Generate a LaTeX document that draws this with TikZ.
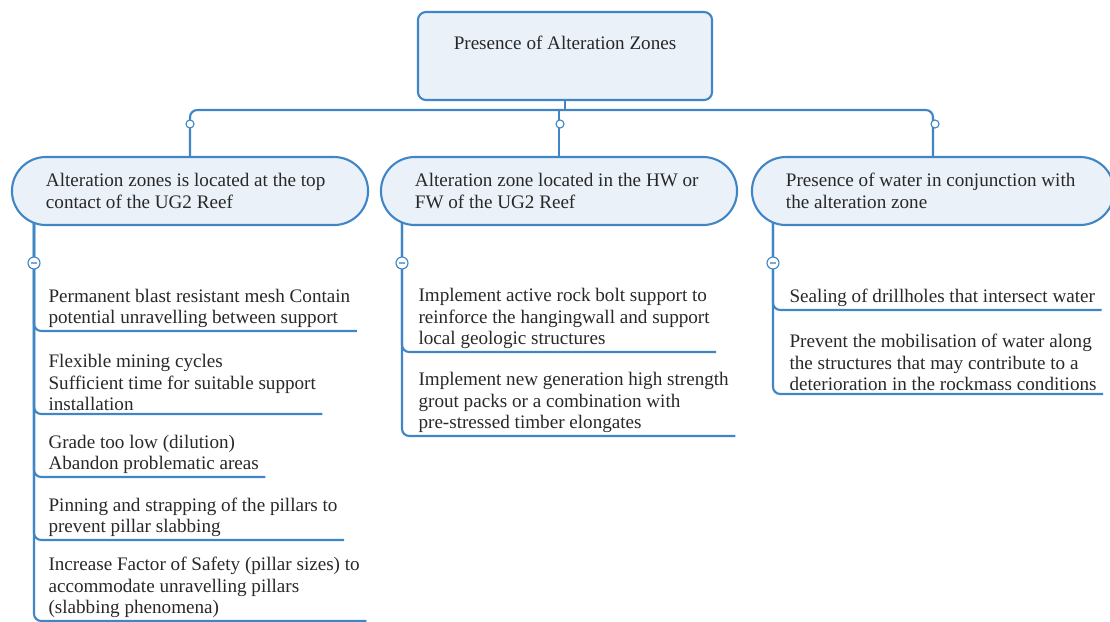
\documentclass[tikz,border=0pt]{standalone}
\usepackage{fontspec}
\setmainfont{Liberation Serif}
\usepackage{tikz}
\usetikzlibrary{positioning}
\usetikzlibrary{calc}
\definecolor{mapblue}{RGB}{64,134,198}
\definecolor{mapfill}{RGB}{234,241,249}
\definecolor{maptext}{RGB}{40,40,40}
\newcommand{\mapfont}{\fontsize{13.6}{15.3}\selectfont}

\begin{document}
\begin{tikzpicture}[x=0.025cm, y=-0.025cm, thick]
    % Define styles
    \tikzstyle{topic} = [rectangle, draw=mapblue, line width=1.5pt, fill=mapfill, rounded corners=0.2cm, minimum width=7.35cm, minimum height=2.2cm, align=center, text height=0.3cm, text depth=0.61cm, font=\mapfont, text=maptext]
    \tikzstyle{pill} = [rectangle, draw=mapblue, line width=1.5pt, fill=mapfill, rounded corners=0.85cm, minimum height=1.7cm, inner xsep=0.85cm, text width=7.2cm, align=flush left, font=\mapfont, text=maptext]
    \tikzstyle{leaf} = [anchor=south west, inner xsep=0.15cm, inner ysep=0.06cm, align=flush left, font=\mapfont, text=maptext]
    \tikzstyle{branch} = [draw=mapblue, line width=1.5pt, rounded corners=0.18cm]
    \tikzstyle{knob} = [circle, draw=mapblue, line width=0.8pt, fill=white, inner sep=0pt, minimum size=0.2cm]
    \tikzstyle{fold} = [circle, draw=mapblue, line width=0.8pt, fill=white, inner sep=0pt, minimum size=0.3cm,
        path picture={\draw[mapblue!70, line width=0.8pt] ([xshift=-0.08cm]path picture bounding box.center) -- ([xshift=0.08cm]path picture bounding box.center);}]

    \useasboundingbox (0,0) rectangle (1110,621);

    % Place nodes
    \node [topic] (zones) at (565,56) {Presence of Alteration Zones};
    \node [pill] (top) at (190,191) {Alteration zones is located at the top\\contact of the UG2 Reef};
    \node [pill] (hwfw) at (559,191) {Alteration zone located in the HW or\\FW of the UG2 Reef};
    \node [pill, text width=7.35cm] (water) at (933,191) {Presence of water in conjunction with\\the alteration zone};

    \node [leaf] (top1) at (42,331) {Permanent blast resistant mesh Contain\\potential unravelling between support};
    \node [leaf] (top2) at (42,414) {Flexible mining cycles\\Sufficient time for suitable support\\installation};
    \node [leaf] (top3) at (42,477) {Grade too low (dilution)\\Abandon problematic areas};
    \node [leaf] (top4) at (42,540) {Pinning and strapping of the pillars to\\prevent pillar slabbing};
    \node [leaf] (top5) at (42,621) {Increase Factor of Safety (pillar sizes) to\\accommodate unravelling pillars\\(slabbing phenomena)};

    \node [leaf] (hw1) at (412,352) {Implement active rock bolt support to\\reinforce the hangingwall and support\\local geologic structures};
    \node [leaf] (hw2) at (412,436) {Implement new generation high strength\\grout packs or a combination with\\pre-stressed timber elongates};

    \node [leaf] (wat1) at (783,310) {Sealing of drillholes that intersect water};
    \node [leaf] (wat2) at (783,394) {Prevent the mobilisation of water along\\the structures that may contribute to a\\deterioration in the rockmass conditions};

    \coordinate (bar) at (560,110);
    \coordinate (topstem) at (34,223);
    \coordinate (hwstem) at (402,223);
    \coordinate (watstem) at (773,223);

    % Draw edges
    \path [branch] (top.north) |- (bar) -| (water.north);
    \path [branch] (zones.south) -- (zones.south |- bar);
    \path [branch] (hwfw.north) -- (hwfw.north |- bar);

    \foreach \n in {top1,top2,top3,top4,top5}
        \path [branch] (topstem) |- (\n.south east);
    \foreach \n in {hw1,hw2}
        \path [branch] (hwstem) |- (\n.south east);
    \foreach \n in {wat1,wat2}
        \path [branch] (watstem) |- (\n.south east);

    % Knobs on top of the lines
    \node [knob] (knobtop) at (190,124) {};
    \node [knob] (knobhw) at (560,124) {};
    \node [knob] (knobwat) at (935,124) {};
    \node [fold] (foldtop) at (34,263) {};
    \node [fold] (foldhw) at (402,263) {};
    \node [fold] (foldwat) at (773,263) {};
\end{tikzpicture}
\end{document}
